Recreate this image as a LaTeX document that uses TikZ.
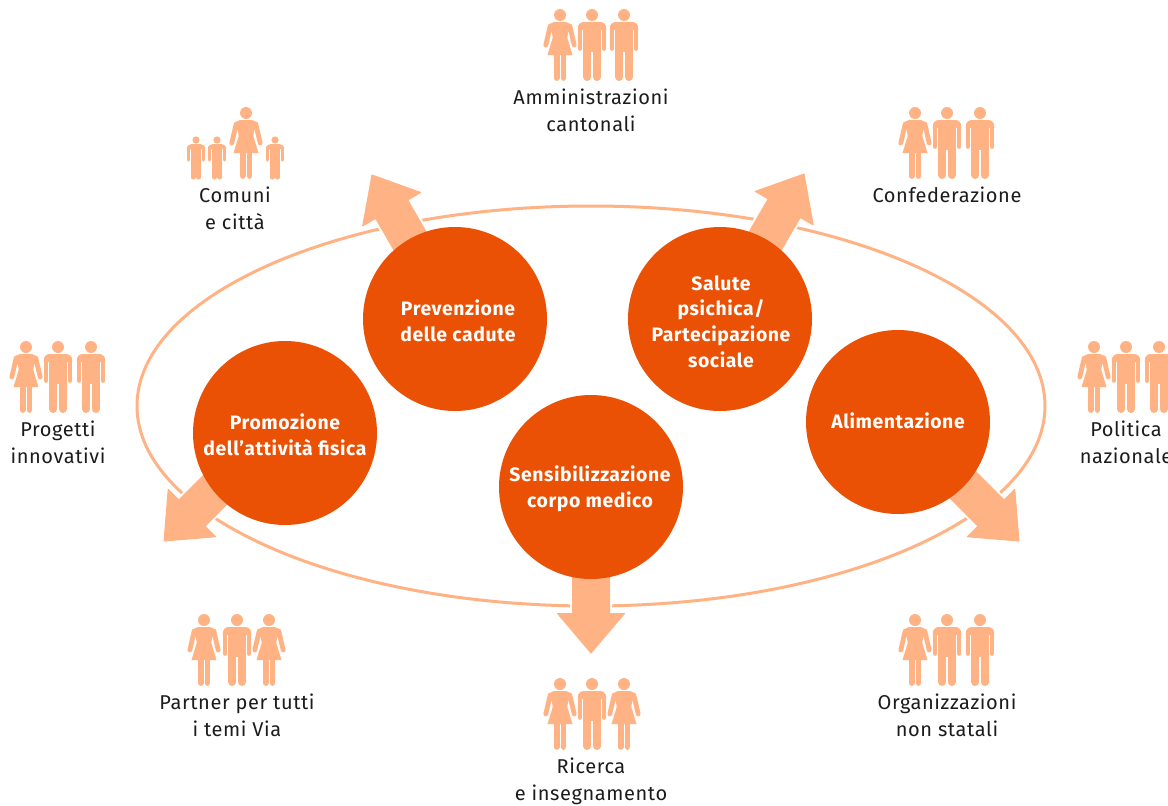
\documentclass[tikz,border=0pt]{standalone}
\usepackage{fontspec}
\setmainfont[LetterSpace=3]{Fira Sans}
\usetikzlibrary{calc}
\definecolor{peach}{HTML}{FFB385}
\definecolor{deep}{HTML}{EB5105}
\definecolor{ink}{HTML}{1C1C1C}
\newcommand{\psz}{1}
\tikzset{
 man/.pic={
  \fill[peach] (0,0) circle (6);
  \fill[peach] (-14.3,15) .. controls (-14.3,9.5) and (-12,7) .. (-8,7) -- (8,7) .. controls (12,7) and (14.3,9.5) .. (14.3,15) -- cycle;
  \fill[peach] (-8.6,10) rectangle (8.6,37);
  \draw[peach,line width=4.7*\psz,line cap=round] (-12,12) -- (-12,33.5) (12,12) -- (12,33.5);
  \draw[peach,line width=7.8*\psz,line cap=round] (-4.7,30) -- (-4.7,62.1) (4.7,30) -- (4.7,62.1);
 },
 woman/.pic={
  \fill[peach] (0,0) circle (6);
  \fill[peach] (-6,7) -- (6,7) .. controls (9,7) and (10,9) .. (11,13) -- (8,18) -- (7.3,23) -- (12.5,40) -- (-12.5,40) -- (-7.3,23) -- (-8,18) -- (-11,13) .. controls (-10,9) and (-9,7) .. (-6,7) -- cycle;
  \draw[peach,line width=4.8,line cap=round] (-9.8,11) -- (-14.2,30) (9.8,11) -- (14.2,30);
  \draw[peach,line width=5.8,line cap=round] (-3.4,38) -- (-3.4,63) (3.4,38) -- (3.4,63);
 },
 disc/.style={circle,fill=deep,minimum size=184,inner sep=0},
 caption/.style={align=center,text=ink,inner sep=0,font=\fontsize{20}{26.7}\selectfont},
 ring/.style={draw=peach,line width=3},
 shaft/.style={fill=peach,draw=peach,line width=1,line join=round,preaction={draw=white,line width=5}},
 lbl/.style={inner sep=0,text=white,align=center,font=\fontsize{19.4}{25.6}\selectfont\bfseries},
}
\newcommand{\bigarrow}[2]{%
 \coordinate (hb) at ($(#2)!39.5pt!(#1)$);
 \path[shaft] ($(#1)!18.5pt!90:(#2)$) -- ($(hb)!18.5pt!90:(#2)$) -- ($(hb)!33.5pt!90:(#2)$) -- (#2) -- ($(hb)!33.5pt!-90:(#2)$) -- ($(hb)!18.5pt!-90:(#2)$) -- ($(#1)!18.5pt!-90:(#2)$) -- cycle;
}
\begin{document}
\begin{tikzpicture}[x=1pt,y=-1pt]
\useasboundingbox (0,0) rectangle (1168,806);
\clip (0,0) rectangle (1168,806);
\fill[white] (0,0) rectangle (1168,806);
\draw[ring] (591,406) ellipse [x radius=454,y radius=200];

\coordinate (cA) at (455,319);
\coordinate (cB) at (720,319);
\coordinate (cC) at (591,487);
\coordinate (sP) at (264,441);
\coordinate (sQ) at (919,441);
\coordinate (tA) at (372,175);
\coordinate (tB) at (804,174);
\coordinate (tC) at (591,653);
\coordinate (tP) at (164,541);
\coordinate (tQ) at (1019,541);
\bigarrow{cA}{tA}
\bigarrow{cB}{tB}
\bigarrow{cC}{tC}
\bigarrow{sP}{tP}
\bigarrow{sQ}{tQ}

\node[disc] (prev) at (cA) {};
\node[lbl] (prevt) at (458,321) {Prevenzione\\delle cadute};
\node[disc] (sal) at (cB) {};
\node[lbl] (salt) at (721,321.5) {Salute\\psichica/\\Partecipazione\\sociale};
\node[disc] (prom) at (285,433) {};
\node[lbl] (promt) at (285,435) {Promozione\\dell’attività fisica};
\node[disc] (sens) at (cC) {};
\node[lbl] (senst) at (590,489) {Sensibilizzazione\\corpo medico};
\node[disc] (alim) at (898,422) {};
\node[lbl] (alimt) at (898,421) {Alimentazione};

\pic at (560,15) {woman}; \pic at (592,15) {man}; \pic at (624,15) {man};
\node[caption] (t1) at (591,110.5) {Amministrazioni\\cantonali};

\pic at (915,113) {woman}; \pic at (947,113) {man}; \pic at (980,113) {man};
\node[caption] (t2) at (947,195) {Confederazione};

\begin{scope}\renewcommand{\psz}{.6}
\pic[scale=.6] at (196,140) {man}; \pic[scale=.6] at (217,140) {man};
\pic[scale=.6] at (275,140) {man};
\end{scope}
\pic at (246,113) {woman};
\node[caption] (t3) at (235,208.5) {Comuni\\e città};

\pic at (26,347) {woman}; \pic at (58,347) {man}; \pic at (91,347) {man};
\node[caption] (t4) at (58,442) {Progetti\\innovativi};

\pic at (1094,347) {woman}; \pic at (1126,347) {man}; \pic at (1159,347) {man};
\node[caption] (t5) at (1126,442) {Politica\\nazionale};

\pic at (204,620) {woman}; \pic at (237,620) {man}; \pic at (269,620) {woman};
\node[caption] (t6) at (237,715) {Partner per tutti\\i temi Via};

\pic at (915,620) {woman}; \pic at (947,620) {man}; \pic at (980,620) {man};
\node[caption] (t7) at (947,715) {Organizzazioni\\non statali};

\pic at (560,684) {woman}; \pic at (592,684) {man}; \pic at (624,684) {woman};
\node[caption] (t8) at (591,781) {Ricerca\\e insegnamento};
\end{tikzpicture}
\end{document}
